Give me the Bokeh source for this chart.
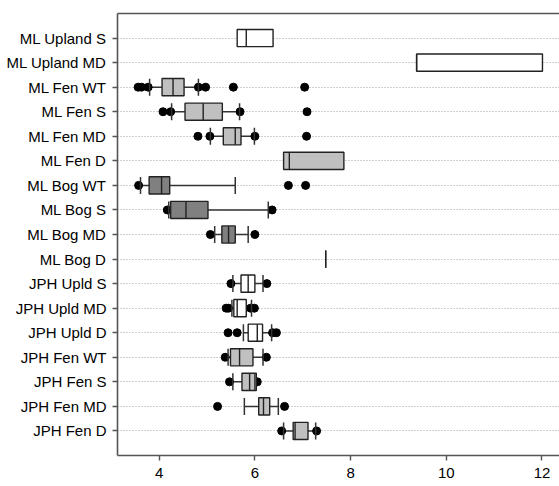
import math
from bokeh.plotting import figure
from bokeh.models import ColumnDataSource, FactorRange, Range1d, LinearAxis, FixedTicker
from bokeh.embed import file_html
from bokeh.resources import INLINE

# Sites / treatments, listed top to bottom
cats = [
    "ML Upland S", "ML Upland MD", "ML Fen WT", "ML Fen S", "ML Fen MD", "ML Fen D",
    "ML Bog WT", "ML Bog S", "ML Bog MD", "ML Bog D",
    "JPH Upld S", "JPH Upld MD", "JPH Upld D",
    "JPH Fen WT", "JPH Fen S", "JPH Fen MD", "JPH Fen D",
]

# Box statistics (25th, median, 75th percentiles) and whisker ends (10th / 90th)
q1 = [5.63, 9.38, 4.06, 4.54, 5.34, 6.60, 3.79, 4.24, 5.31, 7.48,
      5.71, 5.56, 5.86, 5.49, 5.73, 6.08, 6.80]
med = [5.82, 9.38, 4.29, 4.92, 5.59, 6.72, 4.05, 4.56, 5.45, 7.48,
       5.86, 5.63, 6.05, 5.68, 5.89, 6.18, 6.84]
q3 = [6.38, 12.01, 4.52, 5.32, 5.71, 7.86, 4.22, 5.02, 5.59, 7.48,
      6.00, 5.82, 6.16, 5.96, 6.03, 6.31, 7.11]
lo = [None, None, 3.80, 4.26, 5.07, None, 3.61, 4.20, 5.16, None,
      5.54, 5.52, 5.76, 5.44, 5.54, 5.78, 6.60]
hi = [None, None, 4.82, 5.68, 5.99, None, 5.59, 6.28, 5.86, None,
      6.17, 5.93, 6.35, 6.17, 6.00, 6.49, 7.27]

# Points beyond the whiskers
outliers = [
    [], [],
    [3.56, 3.63, 3.77, 4.82, 4.97, 5.55, 7.04],
    [4.08, 4.24, 5.69, 7.09],
    [4.81, 5.06, 6.00, 7.08],
    [],
    [3.57, 6.70, 7.06],
    [4.17, 6.36],
    [5.07, 6.00],
    [],
    [5.50, 6.25],
    [5.40, 5.45, 5.91, 5.99],
    [5.44, 5.63, 6.37, 6.45],
    [5.38, 6.24],
    [5.47, 6.05],
    [5.22, 6.62],
    [6.56, 7.29],
]

x_ticks = [4, 6, 8, 10, 12]

FONT = "Liberation Sans"


def box_color(name):
    if "Bog" in name:
        return "#808080"
    if "Fen" in name:
        return "#c0c0c0"
    return "#ffffff"


p = figure(
    width=559, height=486,
    y_range=FactorRange(factors=list(reversed(cats)), range_padding=0.5,
                        range_padding_units="absolute"),
    x_range=Range1d(3.129, 12.366),
    output_backend="svg", toolbar_location=None,
    min_border_left=117, min_border_right=0, min_border_top=13, min_border_bottom=31,
)
p.outline_line_color = None
p.background_fill_color = "white"
p.border_fill_color = "white"

# Grid: dotted horizontal lines only
p.xgrid.grid_line_color = None
p.ygrid.grid_line_color = "#a0a0a0"
p.ygrid.grid_line_dash = "1 2"
p.ygrid.grid_line_width = 1

# Axes
p.xaxis.ticker = FixedTicker(ticks=x_ticks)
for ax in (p.xaxis[0], p.yaxis[0]):
    ax.axis_line_color = "#555555"
    ax.axis_line_width = 1.6
    ax.major_tick_line_color = "#555555"
    ax.major_tick_line_width = 1.4
    ax.major_tick_in = 0
    ax.major_tick_out = 5
    ax.minor_tick_line_color = None
    ax.major_label_text_font = FONT
    ax.major_label_text_font_size = "15px"
    ax.major_label_text_color = "black"
p.xaxis.major_label_standoff = 7
p.yaxis.major_label_standoff = 6

top = LinearAxis(ticker=FixedTicker(ticks=[]), axis_line_color="#555555",
                 axis_line_width=1.6, major_label_text_font_size="0px",
                 major_tick_line_color=None, minor_tick_line_color=None)
p.add_layout(top, "above")

# Whiskers
w_cat, w_x0, w_x1 = [], [], []
cap_cat, cap_x = [], []
for c, a, b, l, h in zip(cats, q1, q3, lo, hi):
    if l is not None:
        w_cat += [c]; w_x0 += [l]; w_x1 += [a]
        cap_cat.append(c); cap_x.append(l)
    if h is not None:
        w_cat += [c]; w_x0 += [b]; w_x1 += [h]
        cap_cat.append(c); cap_x.append(h)
p.segment(x0="x0", x1="x1", y0="y", y1="y",
          source=ColumnDataSource(dict(x0=w_x0, x1=w_x1, y=w_cat)),
          line_color="#333333", line_width=1.5)

# Outlying points
o_cat, o_x = [], []
for c, pts in zip(cats, outliers):
    for v in pts:
        o_cat.append(c); o_x.append(v)
p.scatter(x="x", y="y", source=ColumnDataSource(dict(x=o_x, y=o_cat)),
          size=8, fill_color="black", line_color="black")

# Boxes
box_src = ColumnDataSource(dict(
    y=cats, left=q1, right=q3, med=med,
    color=[box_color(c) for c in cats],
))
p.hbar(y="y", left="left", right="right", height=0.7, source=box_src,
       fill_color="color", line_color="#222222", line_width=1.4)

# Medians
p.hbar(y="y", left="med", right="med", height=0.7, source=box_src,
       fill_color=None, line_color="#222222", line_width=1.4)

# Whisker caps
p.scatter(x="x", y="y", source=ColumnDataSource(dict(x=cap_x, y=cap_cat)),
          marker="dash", angle=math.pi / 2, size=17,
          line_color="#333333", line_width=1.5)

open("out.html", "w").write(file_html(p, INLINE))
